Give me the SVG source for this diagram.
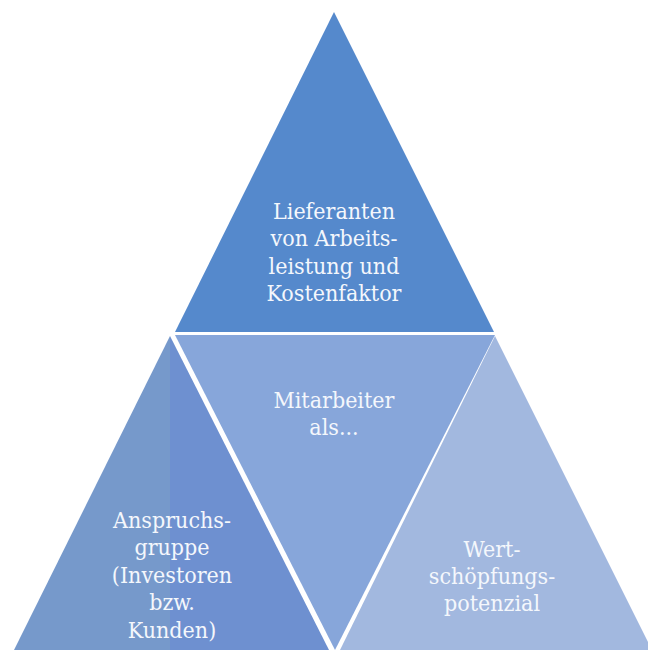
<svg xmlns="http://www.w3.org/2000/svg" width="648" height="650" viewBox="0 0 648 650">
  <style>
    .lbl { font-family: 'DejaVu Serif', 'Liberation Serif', serif; font-stretch: condensed; font-size: 23px; fill: #f4f7fc; text-anchor: middle; }
  </style>
  <rect width="648" height="650" fill="#ffffff"/>

  <!-- top segment -->
  <g id="top">
    <polygon points="334,12 494,332 175,332" fill="#5589cc"/>
    <text class="lbl" x="334" y="219">Lieferanten</text>
    <text class="lbl" x="334" y="246">von Arbeits-</text>
    <text class="lbl" x="334" y="274">leistung und</text>
    <text class="lbl" x="334" y="301">Kostenfaktor</text>
  </g>

  <!-- centre segment (inverted) -->
  <g id="centre">
    <polygon points="175,335 495,335 335,650" fill="#87a6da"/>
    <text class="lbl" x="334" y="408">Mitarbeiter</text>
    <text class="lbl" x="334" y="435">als...</text>
  </g>

  <!-- lower left segment -->
  <g id="left">
    <polygon points="170,336 170,650 14,650" fill="#7699cb"/>
    <polygon points="170,336 329,650 170,650" fill="#6e90d0"/>
    <text class="lbl" x="172" y="528">Anspruchs-</text>
    <text class="lbl" x="172" y="555">gruppe</text>
    <text class="lbl" x="172" y="583">(Investoren</text>
    <text class="lbl" x="172" y="610">bzw.</text>
    <text class="lbl" x="172" y="638">Kunden)</text>
  </g>

  <!-- lower right segment -->
  <g id="right">
    <polygon points="495,336 652,650 340,650" fill="#a2b8df"/>
    <text class="lbl" x="492" y="557">Wert-</text>
    <text class="lbl" x="492" y="584">schöpfungs-</text>
    <text class="lbl" x="492" y="611">potenzial</text>
  </g>

  <g id="connectors"/>
</svg>
